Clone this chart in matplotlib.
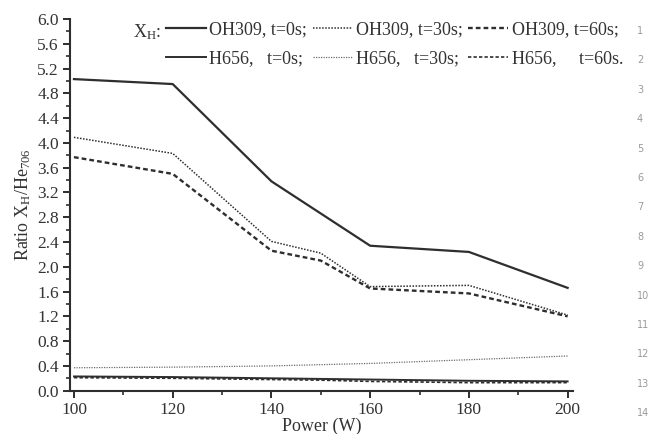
import matplotlib
matplotlib.use("Agg")
import matplotlib.pyplot as plt
from matplotlib.ticker import MultipleLocator, FormatStrFormatter

plt.rcParams["font.family"] = ["Liberation Serif", "DejaVu Serif"]
plt.rcParams["mathtext.fontset"] = "custom"
plt.rcParams["mathtext.rm"] = "Liberation Serif"
plt.rcParams["mathtext.it"] = "Liberation Serif:italic"

# Discharge power (W)
power = [100, 120, 140, 150, 160, 180, 200]

# Ratio X_H / He_706 for OH309 band
oh309_t0 = [5.03, 4.95, 3.38, 2.86, 2.34, 2.24, 1.66]
oh309_t30 = [4.09, 3.83, 2.41, 2.22, 1.68, 1.70, 1.22]
oh309_t60 = [3.77, 3.50, 2.26, 2.10, 1.65, 1.57, 1.20]

# Ratio X_H / He_706 for H656 line
h656_t0 = [0.23, 0.22, 0.20, 0.19, 0.18, 0.16, 0.15]
h656_t30 = [0.37, 0.38, 0.40, 0.42, 0.44, 0.50, 0.56]
h656_t60 = [0.21, 0.20, 0.18, 0.17, 0.15, 0.13, 0.13]

labels_oh = ["OH309, t=0s;", "OH309, t=30s;", "OH309, t=60s;"]
labels_h = ["H656,   t=0s;", "H656,   t=30s;", "H656,     t=60s."]

xticks = [100, 120, 140, 160, 180, 200]

ink = "#2e2e2e"
txt = "#333333"
fig = plt.figure(figsize=(6.52, 4.34), dpi=100)
ax = fig.add_axes([0.1074, 0.0998, 0.7715, 0.8564])

styles = [
    dict(linestyle="-", linewidth=1.6),
    dict(linestyle=(0, (1, 1)), linewidth=1.1),
    dict(linestyle=(0, (2, 1.3)), linewidth=1.7),
]
styles_h = [
    dict(linestyle="-", linewidth=1.4),
    dict(linestyle=(0, (1, 1)), linewidth=0.9, alpha=0.7),
    dict(linestyle=(0, (2, 1.3)), linewidth=1.2),
]

handles = []
for ys, lab, st in zip([oh309_t0, oh309_t30, oh309_t60], labels_oh, styles):
    h, = ax.plot(power, ys, color=ink, label=lab, **st)
    handles.append(h)
handles_h = []
for ys, lab, st in zip([h656_t0, h656_t30, h656_t60], labels_h, styles_h):
    h, = ax.plot(power, ys, color=ink, label=lab, **st)
    handles_h.append(h)

ax.set_xlim(99.2, 201.1)
ax.set_ylim(0, 6.0)
ax.set_xticks(xticks)
ax.xaxis.set_minor_locator(MultipleLocator(10))
ax.yaxis.set_major_locator(MultipleLocator(0.4))
ax.yaxis.set_minor_locator(MultipleLocator(0.2))
ax.yaxis.set_major_formatter(FormatStrFormatter("%.1f"))

for s in ["top", "right"]:
    ax.spines[s].set_visible(False)
for s in ["left", "bottom"]:
    ax.spines[s].set_linewidth(1.5)
    ax.spines[s].set_color(ink)

ax.tick_params(which="major", direction="out", length=5, width=1.4, colors=ink,
               labelsize=12.5, labelcolor=txt, pad=3)
ax.tick_params(which="minor", direction="out", length=3, width=1.2, colors=ink)

ax.set_xlabel("Power (W)", fontsize=13, color=txt, labelpad=0)
ax.set_ylabel(r"Ratio X$_\mathrm{H}$/He$_{706}$", fontsize=13, color=txt, labelpad=3)

# legend: columns pair the OH309 and H656 entries for each time
order_h = [handles[0], handles_h[0], handles[1], handles_h[1], handles[2], handles_h[2]]
order_l = [labels_oh[0], labels_h[0], labels_oh[1], labels_h[1], labels_oh[2], labels_h[2]]
leg = ax.legend(order_h, order_l, ncol=3, frameon=False, fontsize=13,
                handlelength=2.2, handletextpad=0.2, columnspacing=0.3,
                labelspacing=0.65, borderpad=0, loc="upper left",
                bbox_to_anchor=(0.173, 1.018))
for t in leg.get_texts():
    t.set_color(txt)
fig.text(0.204, 0.925, r"X$_\mathrm{H}$:", fontsize=13, color=txt,
         ha="left", va="center")

# document line numbers in the margin
for i in range(1, 15):
    fig.text(0.977, 1 - (31 + (i - 1) * 29.4) / 434, str(i), fontsize=7,
             color="#9a9a9a", family="DejaVu Sans", ha="left", va="center")

fig.savefig("out.png", dpi=100)
